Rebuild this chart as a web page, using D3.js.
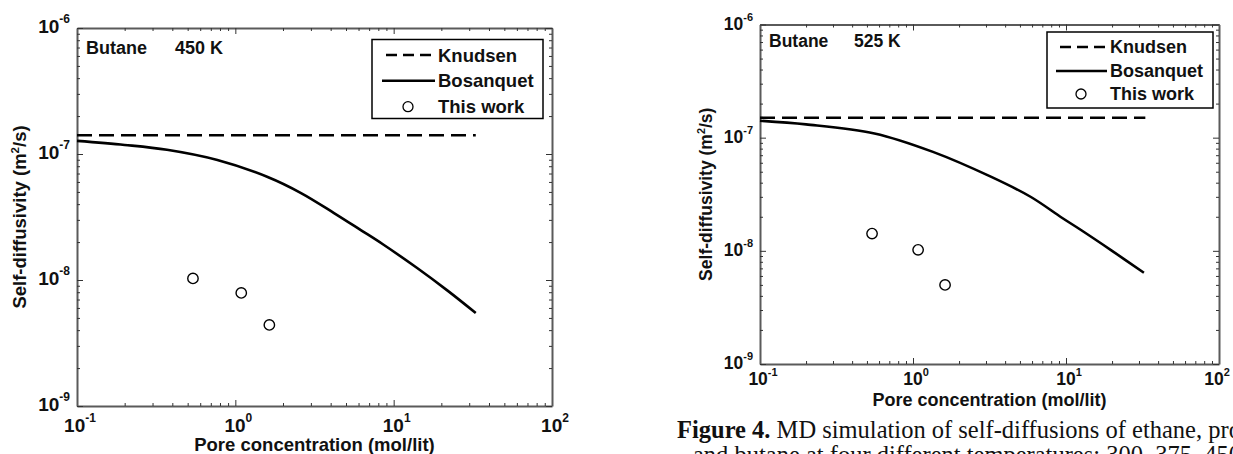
<!DOCTYPE html>
<html>
<head>
<meta charset="utf-8">
<script src="https://cdn.jsdelivr.net/npm/d3@7"></script>
<style>
body{margin:0;background:#fff;}
svg{display:block;}
text{font-family:"Liberation Sans",Arial,sans-serif;font-weight:bold;fill:#111;}
</style>
</head>
<body>
<svg id="fig" width="1233" height="454"></svg>
<script>
/* decades on both log axes, with the exponents used as labels */
const xDecades = [0.1, 1, 10, 100];
const xExps = ["-1", "0", "1", "2"];
const yDecades = [1e-9, 1e-8, 1e-7, 1e-6];
const yExps = ["-9", "-8", "-7", "-6"];
const legendNames = ["Knudsen", "Bosanquet", "This work"];

/* Butane 450 K */
const knud450X = [0.1, 33];
const knud450Y = [1.41e-7, 1.41e-7];
const bos450X = [0.1, 0.2, 0.37, 0.77, 1.6, 2.6, 4.2, 6.2, 8.5, 14, 22, 33];
const bos450Y = [1.27e-7, 1.18e-7, 1.08e-7, 8.96e-8, 6.57e-8, 4.9e-8, 3.4e-8, 2.49e-8, 1.93e-8, 1.25e-8, 8.2e-9, 5.47e-9];
const md450X = [0.54, 1.09, 1.64];
const md450Y = [1.03e-8, 7.9e-9, 4.4e-9];

/* Butane 525 K */
const knud525X = [0.1, 33];
const knud525Y = [1.5e-7, 1.5e-7];
const bos525X = [0.1, 0.2, 0.56, 1.35, 3.25, 5.9, 9.4, 12.6, 20, 32.3];
const bos525Y = [1.41e-7, 1.31e-7, 1.09e-7, 7.49e-8, 4.5e-8, 2.99e-8, 1.96e-8, 1.52e-8, 1.0e-8, 6.4e-9];
const md525X = [0.54, 1.08, 1.62];
const md525Y = [1.42e-8, 1.02e-8, 5.0e-9];

const svg = d3.select("#fig");

function zip(a, b){ return a.map((v, i) => [v, b[i]]); }
function isDecade(v){ const l = Math.log10(v); return Math.abs(l - Math.round(l)) < 1e-6; }

function powLabel(t, exp, fs, es, up){
    t.append("tspan").attr("font-size", fs).text("10");
    t.append("tspan").attr("font-size", es).attr("dy", -up).text(exp);
}

function drawPanel(p){
    const g = svg.append("g");
    const x = d3.scaleLog().domain([0.1, 100]).range([p.l, p.r]);
    const y = d3.scaleLog().domain([1e-9, 1e-6]).range([p.b, p.t]);
    const xMinor = x.ticks().filter(v => !isDecade(v));
    const yMinor = y.ticks().filter(v => !isDecade(v));

    // frame: four axes with ticks pointing inward
    const sides = [
        [d3.axisBottom, x, `translate(0,${p.b})`, xDecades, xMinor],
        [d3.axisTop, x, `translate(0,${p.t})`, xDecades, xMinor],
        [d3.axisLeft, y, `translate(${p.l},0)`, yDecades, yMinor],
        [d3.axisRight, y, `translate(${p.r},0)`, yDecades, yMinor]
    ];
    sides.forEach(s => {
        const maj = g.append("g").attr("transform", s[2])
            .call(s[0](s[1]).tickValues(s[3]).tickSizeInner(-6).tickSizeOuter(0).tickFormat(""));
        g.append("g").attr("transform", s[2])
            .call(s[0](s[1]).tickValues(s[4]).tickSizeInner(-3).tickSizeOuter(0).tickFormat(""))
            .select(".domain").remove();
        maj.select(".domain").attr("stroke", "#5a5a5a").attr("stroke-width", 2);
        g.selectAll(".tick line").attr("stroke", "#333").attr("stroke-width", 1);
    });

    // tick labels 10^n
    xDecades.forEach((v, i) => {
        const last = i === xDecades.length - 1;
        const t = g.append("text").attr("x", x(v) + (last ? p.lastShift : 3)).attr("y", p.b + p.xLabDy)
            .attr("text-anchor", "middle");
        powLabel(t, xExps[i], p.tickFs, p.expFs, p.expUp);
    });
    yDecades.forEach((v, i) => {
        const t = g.append("text").attr("x", p.l - 7).attr("y", y(v) + 5)
            .attr("text-anchor", "end");
        powLabel(t, yExps[i], p.tickFs, p.expFs, p.expUp);
    });

    // axis titles
    g.append("text").attr("x", (p.l + p.r) / 2).attr("y", p.xTitleY)
        .attr("text-anchor", "middle").attr("font-size", p.titleFs)
        .text("Pore concentration (mol/lit)");
    const yt = g.append("text")
        .attr("transform", `translate(${p.yTitleX},${(p.t + p.b) / 2}) rotate(-90)`)
        .attr("text-anchor", "middle").attr("font-size", p.yTitleFs);
    yt.append("tspan").text("Self-diffusivity (m");
    yt.append("tspan").attr("font-size", p.yTitleFs * 0.62).attr("dy", -7).text("2");
    yt.append("tspan").attr("dy", 7).text("/s)");

    // curves
    const line = d3.line().x(d => x(d[0])).y(d => y(d[1]));
    g.append("path").datum(zip(p.knudX, p.knudY)).attr("d", line)
        .attr("fill", "none").attr("stroke", "#000").attr("stroke-width", 2.6)
        .attr("stroke-dasharray", "15,7");
    g.append("path").datum(zip(p.bosX, p.bosY)).attr("d", line.curve(d3.curveCatmullRom.alpha(0.5)))
        .attr("fill", "none").attr("stroke", "#000").attr("stroke-width", 2.6);
    g.selectAll("circle.md").data(zip(p.mdX, p.mdY)).enter().append("circle")
        .attr("class", "md")
        .attr("cx", d => x(d[0])).attr("cy", d => y(d[1])).attr("r", 5.2)
        .attr("fill", "#fff").attr("stroke", "#000").attr("stroke-width", 1.4);

    // note
    g.append("text").attr("x", p.l + 9).attr("y", p.noteY).attr("font-size", p.noteFs).text("Butane");
    g.append("text").attr("x", p.l + p.tempDx).attr("y", p.noteY).attr("font-size", p.noteFs).text(p.temp);

    // legend
    const lg = p.legend;
    g.append("rect").attr("x", lg.x).attr("y", lg.y).attr("width", lg.w).attr("height", lg.h)
        .attr("fill", "#fff").attr("stroke", "#000").attr("stroke-width", 1.5);
    legendNames.forEach((name, i) => {
        const ry = lg.rows[i];
        if (i === 0) {
            g.append("line").attr("x1", lg.lineX0 + 4).attr("x2", lg.lineX1).attr("y1", ry).attr("y2", ry)
                .attr("stroke", "#000").attr("stroke-width", 2.6).attr("stroke-dasharray", "11,6");
        } else if (i === 1) {
            g.append("line").attr("x1", lg.lineX0).attr("x2", lg.lineX1).attr("y1", ry).attr("y2", ry)
                .attr("stroke", "#000").attr("stroke-width", 2.6);
        } else {
            g.append("circle").attr("cx", lg.dotX).attr("cy", ry).attr("r", 5)
                .attr("fill", "#fff").attr("stroke", "#000").attr("stroke-width", 1.3);
        }
        g.append("text").attr("x", lg.textX).attr("y", ry + lg.fs * 0.36)
            .attr("font-size", lg.fs).text(name);
    });
}

drawPanel({
    l: 77, t: 28, r: 552, b: 406,
    tickFs: 19, expFs: 12, expUp: 10, xLabDy: 26, lastShift: 3,
    titleFs: 18.5, xTitleY: 451, yTitleFs: 18.5, yTitleX: 26,
    noteFs: 18, noteY: 54, tempDx: 98, temp: "450 K",
    knudX: knud450X, knudY: knud450Y, bosX: bos450X, bosY: bos450Y, mdX: md450X, mdY: md450Y,
    legend: {x: 372, y: 39.5, w: 171, h: 79, rows: [55, 80.7, 106.7],
             lineX0: 382, lineX1: 435, dotX: 408, textX: 438, fs: 18.5}
});

drawPanel({
    l: 760, t: 24.5, r: 1219, b: 364,
    tickFs: 17.5, expFs: 11, expUp: 9, xLabDy: 21, lastShift: -2,
    titleFs: 18, xTitleY: 406, yTitleFs: 17.5, yTitleX: 712,
    noteFs: 17.5, noteY: 47, tempDx: 94, temp: "525 K",
    knudX: knud525X, knudY: knud525Y, bosX: bos525X, bosY: bos525Y, mdX: md525X, mdY: md525Y,
    legend: {x: 1047, y: 32, w: 166, h: 76, rows: [47, 71, 94],
             lineX0: 1056, lineX1: 1107, dotX: 1081, textX: 1110, fs: 18}
});

// caption of the source figure (cut by the page edge)
const cap = svg.append("g").style("font-family", "'Liberation Serif','Times New Roman',serif");
const c1 = cap.append("text").attr("x", 677).attr("y", 438).attr("font-size", 24.5)
    .style("font-family", "inherit").style("font-weight", "normal");
c1.append("tspan").style("font-weight", "bold").text("Figure 4.");
c1.append("tspan").text(" MD simulation of self-diffusions of ethane, propane");
cap.append("text").attr("x", 693).attr("y", 463).attr("font-size", 24.5)
    .style("font-family", "inherit").style("font-weight", "normal")
    .text("and butane at four different temperatures: 300, 375, 450 and 525 K.");
</script>
</body>
</html>
